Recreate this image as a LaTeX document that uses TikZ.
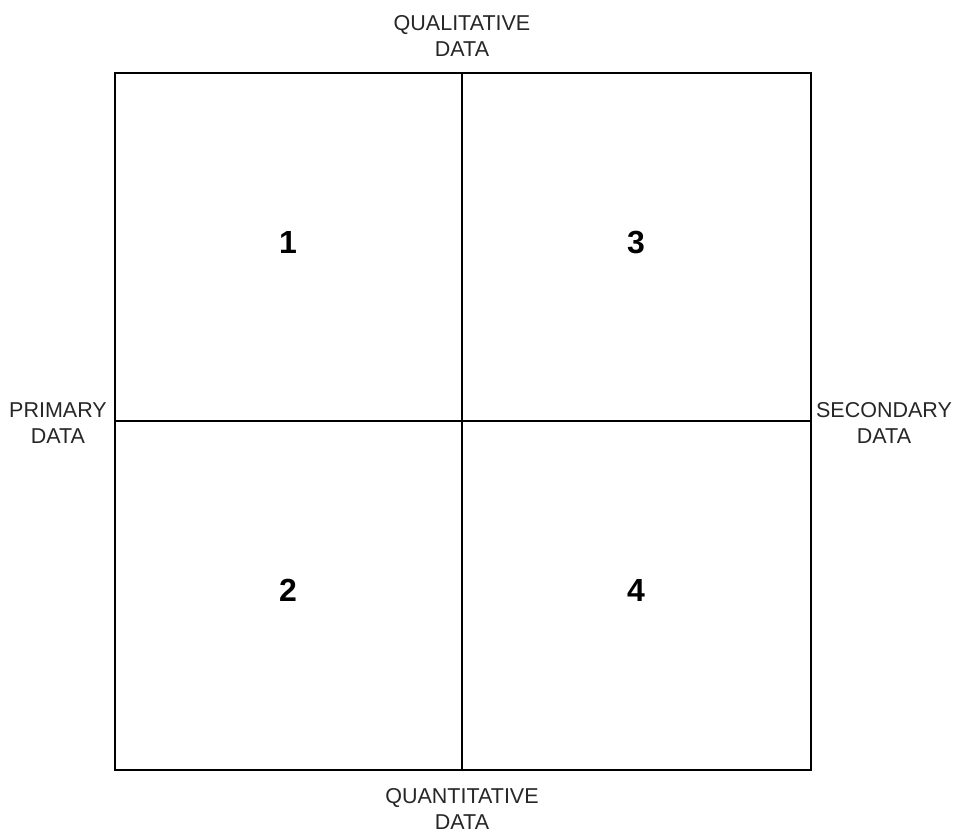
\documentclass[tikz,border=0pt]{standalone}
\usepackage{fontspec}
\setmainfont{Liberation Sans}
\begin{document}
\begin{tikzpicture}[x=1pt,y=-1pt,
  box/.style={draw=black,line width=1.3pt},
  axislabel/.style={font=\fontsize{21.5}{26}\selectfont,align=center,text=black!85,inner sep=0pt},
  num/.style={font=\fontsize{32}{38}\selectfont\bfseries,inner sep=0pt}]
\useasboundingbox (0,0) rectangle (955,831);
\coordinate (tl) at (115,73);
\coordinate (br) at (811,770);
\coordinate (tm) at (462,73);
\coordinate (bm) at (462,770);
\coordinate (lm) at (115,421);
\coordinate (rm) at (811,421);
\draw[box] (tl) rectangle (br);
\draw[box] (tm) -- (bm);
\draw[box] (lm) -- (rm);
\node[axislabel] (qual) at (462,36) {QUALITATIVE\\DATA};
\node[axislabel] (quant) at (462,809) {QUANTITATIVE\\DATA};
\node[axislabel] (prim) at (58,423) {PRIMARY\\DATA};
\node[axislabel] (sec) at (884,423) {SECONDARY\\DATA};
\node[num] (n1) at (288,242) {1};
\node[num] (n3) at (636,242) {3};
\node[num] (n2) at (288,590) {2};
\node[num] (n4) at (636,590) {4};
\end{tikzpicture}
\end{document}
